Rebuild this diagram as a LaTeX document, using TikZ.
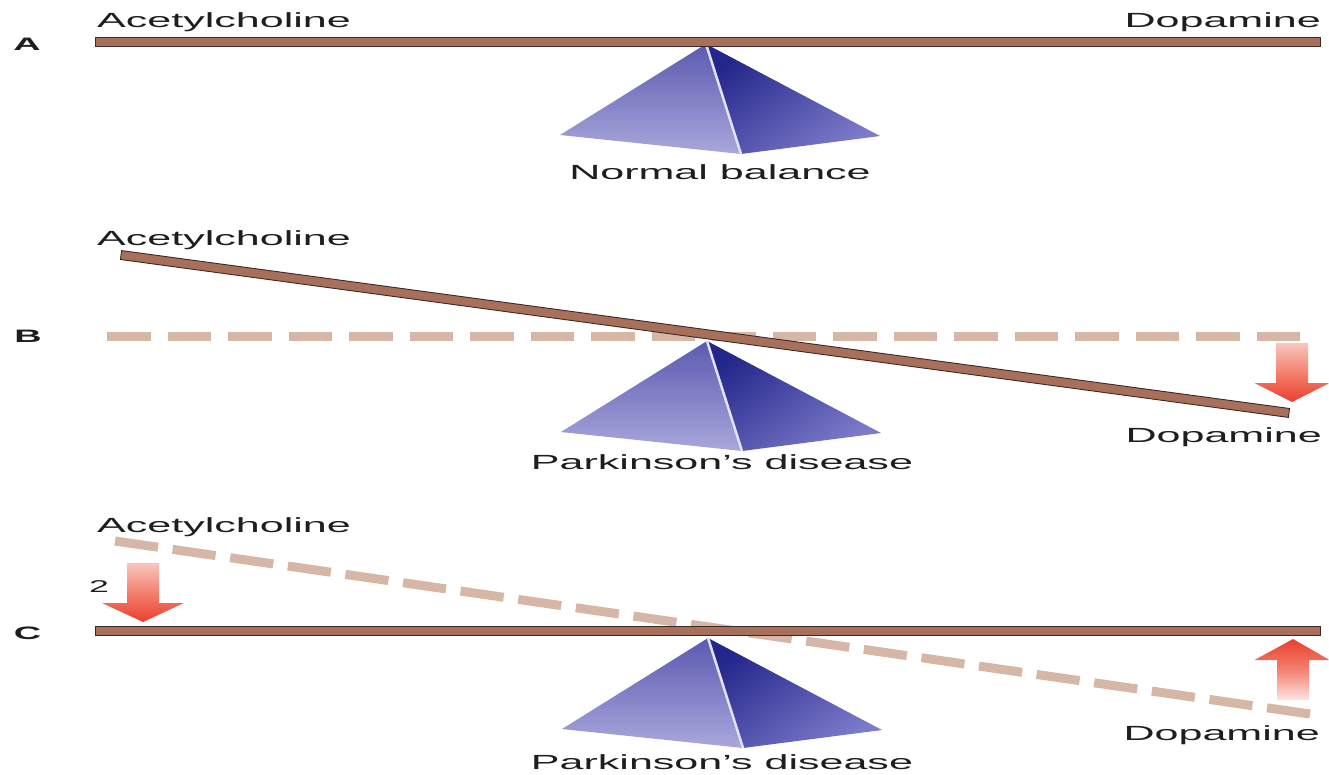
\documentclass[tikz,border=0pt]{standalone}
\usepackage{fontspec}
\setmainfont{Liberation Sans}
\usepackage{graphicx}
\usetikzlibrary{calc}

\definecolor{beam}{HTML}{A8705C}
\definecolor{beamline}{HTML}{3A2A22}
\definecolor{ghost}{HTML}{D6B7A6}
\definecolor{ink}{HTML}{1E1E1E}
\definecolor{pyrLtop}{HTML}{5C5AB0}
\definecolor{pyrLbot}{HTML}{A9A7DB}
\definecolor{pyrRtop}{HTML}{23268A}
\definecolor{pyrRbot}{HTML}{7C7ACA}
\definecolor{pyrEdge}{HTML}{E2E2F6}
\definecolor{arrRed}{HTML}{E9402D}
\definecolor{arrMid}{HTML}{F3806F}
\definecolor{arrPale}{HTML}{F9C6BE}
\definecolor{arrFade}{HTML}{FDE4E0}

% horizontally widened lettering
\newcommand{\wide}[1]{\scalebox{2.1}[1]{#1}}

\tikzset{
  lbl/.style={inner sep=0pt, text=ink, font=\fontsize{20.5}{24}\selectfont},
  numlbl/.style={inner sep=0pt, text=ink, font=\fontsize{17}{20}\selectfont},
  panel/.style={inner sep=0pt, text=ink, font=\fontsize{18}{22}\selectfont\bfseries},
  beamstyle/.style={fill=beam, draw=beamline, line width=0.9pt},
  ghostbeam/.style={draw=ghost, line width=9pt, line cap=butt},
  downarrow/.style={top color=arrPale, bottom color=arrRed, middle color=arrMid},
  uparrow/.style={top color=arrRed, bottom color=arrFade, middle color=arrMid},
  pyramid/.pic={
    \shade[top color=pyrLtop, bottom color=pyrLbot]
      (0,0) -- (-146,91) -- (35,110) -- cycle;
    \shade[top color=pyrRtop, bottom color=pyrRbot, shading angle=35]
      (0,0) -- (35,110) -- (174,92) -- cycle;
    \draw[pyrEdge, line width=2.5pt] (0,0) -- (35,110);
  }
}

\begin{document}
\begin{tikzpicture}[x=1pt, y=-1pt]
  \useasboundingbox (0,0) rectangle (1329,774);
  \fill[white] (0,0) rectangle (1329,774);

  % ---------- A: normal balance ----------
  \pic at (706,44) {pyramid};
  \draw[beamstyle] (95,37) rectangle (1320,46);
  \node[panel, anchor=base] (labA) at (27,50) {\wide{A}};
  \node[lbl, anchor=base west] (achA) at (97,27) {\wide{Acetylcholine}};
  \node[lbl, anchor=base east] (dopA) at (1321,27) {\wide{Dopamine}};
  \node[lbl, anchor=base] (capA) at (720,179) {\wide{Normal balance}};

  % ---------- B: tilted beam ----------
  \draw[ghostbeam, dash pattern=on 43.5pt off 17pt] (107,336) -- (1302,336);
  \pic at (707,341) {pyramid};
  \draw[beamstyle, rotate around={-7.7:(705,334)}]
    (115.7,329.5) rectangle (1294.3,338.5);
  \shade[downarrow] (1276,343) -- (1308,343) -- (1308,383) -- (1329.5,383)
    -- (1292,402) -- (1254.5,383) -- (1276,383) -- cycle;
  \node[panel, anchor=base] (labB) at (28,342) {\wide{B}};
  \node[lbl, anchor=base west] (achB) at (97,245) {\wide{Acetylcholine}};
  \node[lbl, anchor=base east] (dopB) at (1322,442) {\wide{Dopamine}};
  \node[lbl, anchor=base] (capB) at (722,469) {\wide{Parkinson’s disease}};

  % ---------- C: restored balance ----------
  \draw[ghostbeam, dash pattern=on 43.5pt off 14.7pt] (115,541) -- (1310,714);
  \pic at (708,638) {pyramid};
  \draw[beamstyle] (95,626) rectangle (1320,635);
  \shade[downarrow] (127,563) -- (159,563) -- (159,603) -- (184,603)
    -- (143,622) -- (102,603) -- (127,603) -- cycle;
  \shade[uparrow] (1277,700) -- (1309,700) -- (1309,660) -- (1329.5,660)
    -- (1293,639) -- (1254.5,660) -- (1277,660) -- cycle;
  \node[panel, anchor=base] (labC) at (27.5,639) {\wide{C}};
  \node[numlbl, anchor=base] (num2) at (99,592) {\wide{2}};
  \node[lbl, anchor=base west] (achC) at (97,532) {\wide{Acetylcholine}};
  \node[lbl, anchor=base east] (dopC) at (1320,740) {\wide{Dopamine}};
  \node[lbl, anchor=base] (capC) at (722,769) {\wide{Parkinson’s disease}};
\end{tikzpicture}
\end{document}
